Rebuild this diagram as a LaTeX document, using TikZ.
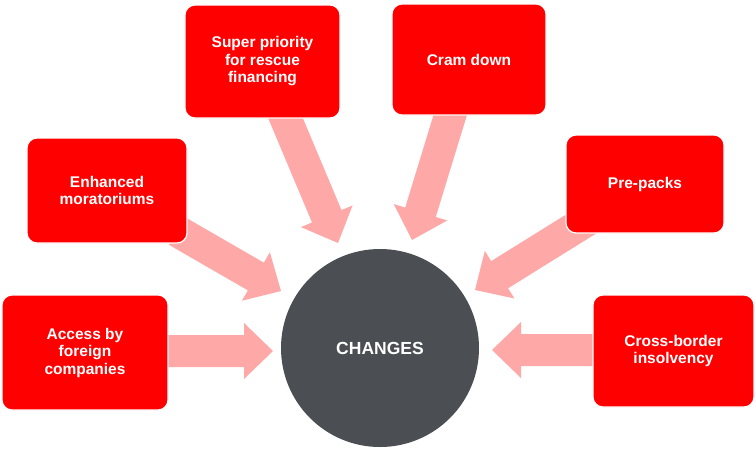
\documentclass[tikz,border=0pt]{standalone}
\usepackage{fontspec}
\setmainfont{Liberation Sans}
\usetikzlibrary{calc}
\definecolor{boxred}{HTML}{FF0000}
\definecolor{arrowpink}{HTML}{FFA8A8}
\definecolor{circgray}{HTML}{4B4F53}
\newcommand{\fatarrow}[2]{%
  \path ($(#2)!29pt!(#1)$) coordinate (neckH);
  \fill[arrowpink] ($(#1)!16pt!90:(#2)$) -- ($(neckH)!16pt!90:(#2)$) -- ($(neckH)!28pt!90:(#2)$) -- (#2)
    -- ($(neckH)!28pt!-90:(#2)$) -- ($(neckH)!16pt!-90:(#2)$) -- ($(#1)!16pt!-90:(#2)$) -- cycle;}
\tikzset{
  redbox/.style={rectangle, rounded corners=10pt, fill=boxred, draw=white, line width=1.2pt,
    text=white, font=\bfseries\fontsize{15.5}{17.5}\selectfont, align=center, inner sep=0pt},
}
\begin{document}
\begin{tikzpicture}[x=1pt,y=-1pt]
\useasboundingbox (0,0) rectangle (756,451);
% connector coordinates
\coordinate (s1) at (160,351); \coordinate (t1) at (273,351);
\coordinate (s2) at (177,231); \coordinate (t2) at (281,291);
\coordinate (s3) at (280,105); \coordinate (t3) at (338,243);
\coordinate (s4) at (453,106); \coordinate (t4) at (412,240);
\coordinate (s5) at (594,216); \coordinate (t5) at (475,290);
\coordinate (s6) at (600,350); \coordinate (t6) at (492,350);
\fatarrow{s1}{t1}
\fatarrow{s2}{t2}
\fatarrow{s3}{t3}
\fatarrow{s4}{t4}
\fatarrow{s5}{t5}
\fatarrow{s6}{t6}
% boxes
\node[redbox, minimum width=166pt, minimum height=115pt] (b1) at (85,352.5) {Access by\\foreign\\companies};
\node[redbox, minimum width=160pt, minimum height=105pt] (b2) at (107,190.5) {Enhanced\\moratoriums};
\node[redbox, minimum width=155pt, minimum height=113pt] (b3) at (262.5,61.5) {Super priority\\for rescue\\financing};
\node[redbox, minimum width=154pt, minimum height=111pt] (b4) at (469,59.5) {Cram down};
\node[redbox, minimum width=158pt, minimum height=98pt] (b5) at (645,184) {Pre-packs};
\node[redbox, minimum width=161pt, minimum height=112pt] (b6) at (673.5,351) {Cross-border\\insolvency};
% centre
\node[circle, fill=circgray, minimum size=198pt, inner sep=0pt, text=white,
  font=\bfseries\fontsize{17.5}{20}\selectfont] (c) at (380,348) {CHANGES};
\end{tikzpicture}
\end{document}
